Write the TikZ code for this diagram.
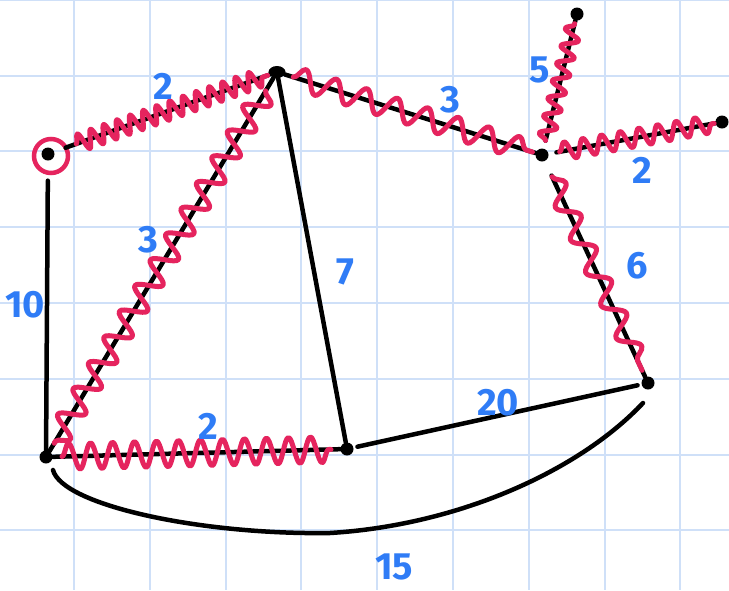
\documentclass[tikz,border=0pt]{standalone}
\usepackage{fontspec}
\setmainfont{Fira Sans}
\usetikzlibrary{decorations.pathmorphing,calc,shapes.geometric}
\definecolor{gridc}{HTML}{CFE0F8}
\definecolor{zred}{HTML}{E5245E}
\definecolor{lblue}{HTML}{2F7CF6}
\begin{document}
\begin{tikzpicture}[x=1pt,y=-1pt,
  gridline/.style={gridc,line width=2pt},
  dot/.style={circle,fill=black,inner sep=0pt,minimum size=13pt},
  edge/.style={black,line width=4.5pt,line cap=round},
  zz/.style={zred,line width=5pt,line cap=round,line join=round,
    decorate,decoration={snake,amplitude=#1}},
  zz/.default=8pt,
  lbl/.style={text=lblue,font=\fontsize{38}{38}\selectfont\bfseries,inner sep=0pt}]
\useasboundingbox (0,0) rectangle (729,590);
\fill[white] (0,0) rectangle (729,590);
\foreach \i in {0,...,8} \draw[gridline] ({74+75.8*\i},0) -- ++(0,590);
\foreach \j in {0,...,7} \draw[gridline] (0,{-0.3+75.8*\j}) -- ++(729,0);

% nodes
\node[dot] (A) at (48,154) {};
\node[draw=zred,circle,line width=4.5pt,minimum size=34pt,inner sep=0pt] (Ar) at (51,156) {};
\node[ellipse,fill=black,inner sep=0pt,minimum width=17pt,minimum height=12pt] (B) at (277,72) {};
\node[dot] (C) at (542,155) {};
\node[dot] (D) at (577,14) {};
\node[dot] (E) at (722,122) {};
\node[dot] (F) at (648,383) {};
\node[dot] (G) at (46,457) {};
\node[dot] (H) at (347,449) {};

% black edges
\draw[edge,shorten <=20pt] (A) -- (G);
\draw[edge,shorten <=12pt] (A) -- (B);
\draw[edge] (B) -- (C);
\draw[edge] (B) -- (G);
\draw[edge] (B) -- (H);
\draw[edge,shorten <=8pt] (C) -- (D);
\draw[edge,shorten <=8pt] (C) -- (E);
\draw[edge,shorten <=16pt] (C) -- (F);
\draw[edge] (G) -- (H);
\draw[edge,shorten <=4pt,shorten >=4pt] (H) -- (F);
\draw[edge] ($(G)+(7,13)$) .. controls (62,505) and (200,535) .. (330,533)
  .. controls (460,525) and (580,470) .. ($(F)+(-5,20)$);

% red zigzags
\draw[zz=9pt,decoration={segment length=14pt}] ($(A)!30pt!(B)$) -- ($(B)!10pt!(A)$);
\draw[zz=11pt,decoration={segment length=32pt}] ($(B)!17pt!(C)$) -- ($(C)!10pt!(B)$);
\draw[zz=12pt,decoration={segment length=30pt}] ($(B)!22pt!(G)$) -- ($(G)!16pt!(B)$);
\draw[zz=8pt,decoration={segment length=18pt}] ($(C)!15pt!(D)$) -- ($(D)!10pt!(C)$);
\draw[zz=9pt,decoration={segment length=19pt}] ($(C)!18pt!(E)$) -- ($(E)!8pt!(C)$);
\draw[zz=10pt,decoration={segment length=36pt}] ($(C)!24pt!(F)$) -- ($(F)!14pt!(C)$);
\draw[zz=13pt,decoration={segment length=22pt}] ($(G)!16pt!(H)$) -- ($(H)!16pt!(G)$);

% labels
\node[lbl] (l1) at (163,86) {2};
\node[lbl] (l2) at (450,100) {3};
\node[lbl] (l3) at (148,240) {3};
\node[lbl] (l4) at (345,272) {7};
\node[lbl] (l5) at (25,305) {10};
\node[lbl] (l6) at (540,70) {5};
\node[lbl] (l7) at (642,170) {2};
\node[lbl] (l8) at (637,266) {6};
\node[lbl] (l9) at (208,426) {2};
\node[lbl] (l10) at (498,403) {20};
\node[lbl] (l11) at (394,567) {15};
\end{tikzpicture}
\end{document}
